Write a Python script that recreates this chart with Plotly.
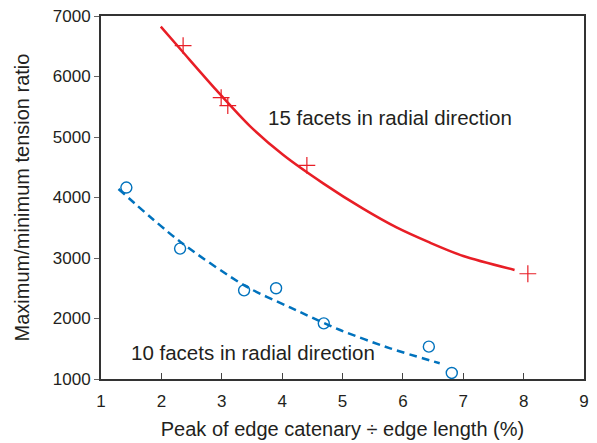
import plotly.graph_objects as go

# Measured points
red_x = [2.36, 2.99, 3.10, 4.41, 8.07]
red_y = [6510, 5650, 5520, 4530, 2740]
blue_x = [1.42, 2.31, 3.37, 3.90, 4.69, 6.43, 6.81]
blue_y = [4165, 3155, 2465, 2500, 1920, 1535, 1100]

# Fitted curves
red_fit_x = [1.99, 2.36, 2.915, 3.467, 4.02, 4.68, 5.34, 5.895, 6.45, 7.0, 7.85]
red_fit_y = [6824, 6400, 5770, 5180, 4702, 4234, 3815, 3505, 3253, 3033, 2802]
blue_fit_x = [1.29, 2.31, 3.41, 4.14, 4.96, 5.79, 6.61]
blue_fit_y = [4140, 3270, 2526, 2180, 1810, 1507, 1260]

x_ticks = [1, 2, 3, 4, 5, 6, 7, 8, 9]
y_ticks = [1000, 2000, 3000, 4000, 5000, 6000, 7000]

RED = "rgb(232,30,38)"
BLUE = "rgb(0,114,189)"
FONT = "Liberation Sans, Arial, Helvetica, sans-serif"
TXT = "#231f20"

fig = go.Figure()
fig.add_trace(go.Scatter(x=red_fit_x, y=red_fit_y, mode="lines",
                         line=dict(color=RED, width=2.5, shape="spline", smoothing=0.8),
                         hoverinfo="skip"))
fig.add_trace(go.Scatter(x=blue_fit_x, y=blue_fit_y, mode="lines",
                         line=dict(color=BLUE, width=2.5, shape="spline", smoothing=0.8,
                                   dash="8px,5px"),
                         hoverinfo="skip"))
fig.add_trace(go.Scatter(x=red_x, y=red_y, mode="markers",
                         marker=dict(symbol="cross-thin-open", size=12, color=RED,
                                     line=dict(color=RED, width=1.2))))
fig.add_trace(go.Scatter(x=blue_x, y=blue_y, mode="markers",
                         marker=dict(symbol="circle-open", size=11, color=BLUE,
                                     line=dict(color=BLUE, width=1.4))))

fig.add_annotation(x=5.78, y=5330, text="15 facets in radial direction",
                   showarrow=False, font=dict(family=FONT, size=20.5, color=TXT))
fig.add_annotation(x=3.52, y=1430, text="10 facets in radial direction",
                   showarrow=False, font=dict(family=FONT, size=20.5, color=TXT))

fig.update_layout(
    width=597, height=443,
    margin=dict(l=101, r=13, t=16, b=64),
    paper_bgcolor="white", plot_bgcolor="white",
    showlegend=False,
    font=dict(family=FONT, size=17, color=TXT),
)
fig.update_xaxes(range=[1, 9], tickvals=x_ticks, ticks="inside", ticklen=6,
                 tickcolor="#444", showline=True, linecolor="#333", linewidth=2,
                 mirror=True, showgrid=False, zeroline=False, ticklabelstandoff=6,
                 automargin=False,
                 title=dict(text="Peak of edge catenary ÷ edge length (%)", standoff=12),
                 tickfont=dict(family=FONT, size=17, color=TXT))
fig.update_yaxes(range=[1000, 7000], tickvals=y_ticks, ticks="outside", ticklen=5,
                 tickcolor="#666", showline=True, linecolor="#333", linewidth=2,
                 mirror=True, showgrid=False, zeroline=False, automargin=False,
                 title=dict(text="Maximum/minimum tension ratio", standoff=18),
                 tickfont=dict(family=FONT, size=17, color=TXT))

fig.write_html("out.html")
